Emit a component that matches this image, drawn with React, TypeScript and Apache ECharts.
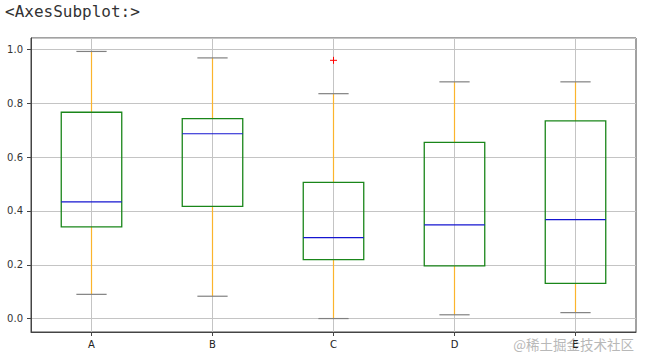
import React, { useEffect, useRef } from "react";
import * as echarts from "echarts";

const categories = ["A", "B", "C", "D", "E"];
const whiskerLow = [0.09, 0.083, 0.0, 0.014, 0.022];
const quartile1 = [0.341, 0.417, 0.219, 0.196, 0.131];
const medians = [0.434, 0.687, 0.301, 0.348, 0.368];
const quartile3 = [0.767, 0.743, 0.506, 0.655, 0.735];
const whiskerHigh = [0.993, 0.969, 0.836, 0.88, 0.88];
const outlierCats = ["C"];
const outlierValues = [0.96];
const titleText = "<AxesSubplot:>";
const watermark = "@稀土掘金技术社区";

const BOX_COLOR = "#1a861a";
const MEDIAN_COLOR = "#1515d0";
const WHISKER_COLOR = "#fbb42c";
const CAP_COLOR = "#808080";

export default function App() {
  const ref = useRef<HTMLDivElement>(null);
  useEffect(() => {
    if (!ref.current) return;
    const chart = echarts.init(ref.current, undefined, { renderer: "svg" });
    const boxData = categories.map((_, i) => [
      i,
      whiskerLow[i],
      quartile1[i],
      medians[i],
      quartile3[i],
      whiskerHigh[i],
    ]);
    const outlierData = outlierCats.map((c, i) => [categories.indexOf(c), outlierValues[i]]);
    const isTick = (v: number) => Math.abs(v / 0.2 - Math.round(v / 0.2)) < 1e-6;
    chart.setOption({
      animation: false,
      backgroundColor: "#ffffff",
      graphic: [
        {
          type: "text",
          left: 5,
          top: 3,
          style: {
            text: titleText,
            font: "16px 'DejaVu Sans Mono'",
            fill: "#333333",
          },
        },
        {
          type: "text",
          right: 12,
          top: 337,
          style: {
            text: watermark,
            font: "13.5px 'Noto Sans CJK SC'",
            fill: "#b8b8b8",
          },
        },
      ],
      grid: {
        left: 31,
        right: 10,
        top: 38,
        bottom: 32,
        show: true,
        borderColor: "#444444",
        borderWidth: 1,
      },
      xAxis: {
        type: "category",
        data: categories,
        boundaryGap: true,
        axisLine: { show: true, onZero: false, lineStyle: { color: "#444444", width: 1 } },
        axisTick: { show: true, alignWithLabel: true, length: 4, lineStyle: { color: "#444444" } },
        axisLabel: {
          color: "#222222",
          fontSize: 10,
          fontFamily: "DejaVu Sans",
          margin: 7,
        },
        splitLine: { show: false },
      },
      yAxis: {
        type: "value",
        min: -0.05,
        max: 1.043,
        axisLine: { show: true, onZero: false, lineStyle: { color: "#444444", width: 1 } },
        axisTick: { show: true, length: 4, lineStyle: { color: "#444444" } },
        axisLabel: {
          color: "#333333",
          fontSize: 10,
          fontFamily: "DejaVu Sans",
          margin: 8,
          showMinLabel: false,
          showMaxLabel: false,
          formatter: (v: number) => (isTick(v) ? v.toFixed(1) : ""),
        },
        splitLine: { show: true, lineStyle: { color: "#c4c4c4", width: 1 } },
      },
      series: [
        {
          type: "custom",
          name: "grid-x",
          data: categories.map((_, i) => [i]),
          encode: { x: 0 },
          silent: true,
          z: 1,
          renderItem: (params: any, api: any) => {
            const x = api.coord([api.value(0), 0])[0];
            const cs = params.coordSys;
            return {
              type: "line",
              shape: { x1: x, y1: cs.y, x2: x, y2: cs.y + cs.height },
              style: { stroke: "#c4c4c4", lineWidth: 1 },
            };
          },
        },
        {
          type: "custom",
          name: "boxes",
          data: boxData,
          encode: { x: 0, y: [1, 2, 3, 4, 5] },
          z: 3,
          renderItem: (params: any, api: any) => {
            const xi = api.value(0);
            const lo = api.coord([xi, api.value(1)]);
            const q1 = api.coord([xi, api.value(2)]);
            const md = api.coord([xi, api.value(3)]);
            const q3 = api.coord([xi, api.value(4)]);
            const hi = api.coord([xi, api.value(5)]);
            const band = api.size([1, 0])[0];
            const bw = band * 0.25;
            const cw = band * 0.125;
            const cx = md[0];
            return {
              type: "group",
              children: [
                {
                  type: "line",
                  shape: { x1: cx, y1: q1[1], x2: cx, y2: lo[1] },
                  style: { stroke: WHISKER_COLOR, lineWidth: 1.2 },
                },
                {
                  type: "line",
                  shape: { x1: cx, y1: q3[1], x2: cx, y2: hi[1] },
                  style: { stroke: WHISKER_COLOR, lineWidth: 1.2 },
                },
                {
                  type: "line",
                  shape: { x1: cx - cw, y1: lo[1], x2: cx + cw, y2: lo[1] },
                  style: { stroke: CAP_COLOR, lineWidth: 1.2 },
                },
                {
                  type: "line",
                  shape: { x1: cx - cw, y1: hi[1], x2: cx + cw, y2: hi[1] },
                  style: { stroke: CAP_COLOR, lineWidth: 1.2 },
                },
                {
                  type: "rect",
                  shape: { x: cx - bw, y: q3[1], width: bw * 2, height: q1[1] - q3[1] },
                  style: { stroke: BOX_COLOR, fill: "none", lineWidth: 1.3 },
                },
                {
                  type: "line",
                  shape: { x1: cx - bw, y1: md[1], x2: cx + bw, y2: md[1] },
                  style: { stroke: MEDIAN_COLOR, lineWidth: 1.2 },
                },
              ],
            };
          },
        },
        {
          type: "custom",
          name: "outliers",
          data: outlierData,
          encode: { x: 0, y: 1 },
          z: 4,
          renderItem: (params: any, api: any) => {
            const p = api.coord([api.value(0), api.value(1)]);
            const s = 3.5;
            return {
              type: "group",
              children: [
                {
                  type: "line",
                  shape: { x1: p[0] - s, y1: p[1], x2: p[0] + s, y2: p[1] },
                  style: { stroke: "#ff0000", lineWidth: 1 },
                },
                {
                  type: "line",
                  shape: { x1: p[0], y1: p[1] - s, x2: p[0], y2: p[1] + s },
                  style: { stroke: "#ff0000", lineWidth: 1 },
                },
              ],
            };
          },
        },
      ],
    });
    return () => chart.dispose();
  }, []);
  return (
    <div
      ref={ref}
      style={{ position: "fixed", left: 0, top: 0, width: 646, height: 364 }}
    />
  );
}
